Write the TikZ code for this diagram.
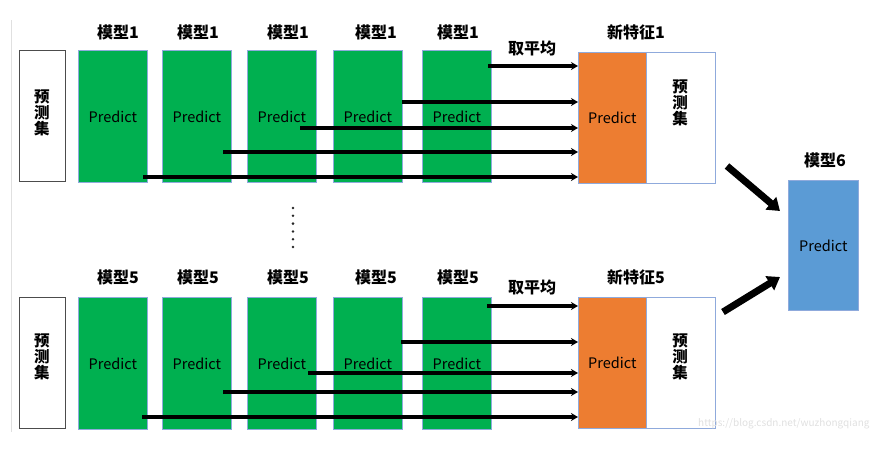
\documentclass[tikz,border=0pt]{standalone}
\usepackage{fontspec}
\setmainfont{Noto Sans CJK SC}
\usetikzlibrary{arrows.meta}
\definecolor{gr}{HTML}{00B050}
\definecolor{og}{HTML}{ED7D31}
\definecolor{bl}{HTML}{5B9BD5}
\definecolor{bd}{HTML}{8FAADC}
\begin{document}
\begin{tikzpicture}[x=1pt,y=-1pt,
  box/.style={draw=bd,line width=0.8pt,inner sep=0pt,anchor=north west,font=\fontsize{14.5}{16}\selectfont},
  gbox/.style={box,fill=gr,minimum width=69pt,minimum height=132pt},
  obox/.style={box,fill=og,minimum width=68pt,minimum height=131pt},
  wbox/.style={box,fill=white,minimum width=69pt,minimum height=131pt},
  sbox/.style={draw=black!70,line width=0.8pt,fill=white,inner sep=0pt,anchor=north west,minimum width=46pt,minimum height=131pt},
  vtxt/.style={font=\fontsize{15.5}{16}\selectfont\bfseries,align=center,inner sep=0pt},
  lbl/.style={font=\fontsize{16}{18}\selectfont\bfseries,inner sep=0pt},
  arr/.style={line width=3.4pt,-{Stealth[length=7pt,width=8pt]}},
  big/.style={line width=7pt,-{Triangle[length=12pt,width=16pt]}}
]
\useasboundingbox (0,0) rectangle (876,448);
\draw[black!12,line width=0.8pt] (11,20) -- (11,432);

% ---------- top row ----------
\node[sbox] (p1) at (19,50) {};
\node[vtxt] (p1t) at (42,113) {预\\[0pt]测\\[0pt]集};
\node[gbox] (a1) at (78,50) {Predict};
\node[gbox] (a2) at (162,50) {Predict};
\node[gbox] (a3) at (247,50) {Predict};
\node[gbox] (a4) at (333,50) {Predict};
\node[gbox] (a5) at (422,50) {Predict};
\node[obox] (o1) at (578,52) {Predict};
\node[wbox] (w1) at (646,52) {};
\node[vtxt] (w1t) at (680,103) {预\\[0pt]测\\[0pt]集};
\foreach \i/\x in {1/118,2/198,3/288,4/376,5/458}
  \node[lbl] (m1\i) at (\x,32) {模型1};
\node[lbl] (avg1) at (532,48) {取平均};
\node[lbl] (nf1) at (636,32) {新特征1};

\coordinate (s11) at (488,66);
\coordinate (s12) at (402,102);
\coordinate (s13) at (300,128);
\coordinate (s14) at (223,152);
\coordinate (s15) at (143,177);
\foreach \i in {1,...,5}
  \draw[arr] (s1\i) -- (s1\i -| o1.west);

% ---------- dots ----------
\foreach \k in {0,...,5}
  \fill[black!85] (293,208+\k*7.8) circle (1.4pt);

% ---------- bottom row ----------
\node[sbox] (p5) at (19,297) {};
\node[vtxt] (p5t) at (42,357) {预\\[0pt]测\\[0pt]集};
\node[gbox] (b1) at (78,297) {Predict};
\node[gbox] (b2) at (162,297) {Predict};
\node[gbox] (b3) at (247,297) {Predict};
\node[gbox] (b4) at (333,297) {Predict};
\node[gbox] (b5) at (422,297) {Predict};
\node[obox] (o5) at (578,297) {Predict};
\node[wbox] (w5) at (646,297) {};
\node[vtxt] (w5t) at (680,357) {预\\[0pt]测\\[0pt]集};
\foreach \i/\x in {1/118,2/198,3/288,4/376,5/458}
  \node[lbl] (m5\i) at (\x,277) {模型5};
\node[lbl] (avg5) at (532,287) {取平均};
\node[lbl] (nf5) at (636,277) {新特征5};

\coordinate (s51) at (487,306);
\coordinate (s52) at (401,342);
\coordinate (s53) at (308,373);
\coordinate (s54) at (223,392);
\coordinate (s55) at (142,417);
\foreach \i in {1,...,5}
  \draw[arr] (s5\i) -- (s5\i -| o5.west);

% ---------- final model ----------
\node[box,fill=bl,minimum width=70pt,minimum height=130pt] (m6) at (788,180) {Predict};
\node[lbl] (m6l) at (825,160) {模型6};
\coordinate (t1) at (727,166);
\coordinate (t5) at (723,312);
\draw[big] (t1) -- (780,211);
\draw[big] (t5) -- (780,277);

\node[text=black!12,font=\fontsize{10}{11}\selectfont,anchor=west,inner sep=0pt] (wm) at (698,424) {https://blog.csdn.net/wuzhongqiang};
\end{tikzpicture}
\end{document}
